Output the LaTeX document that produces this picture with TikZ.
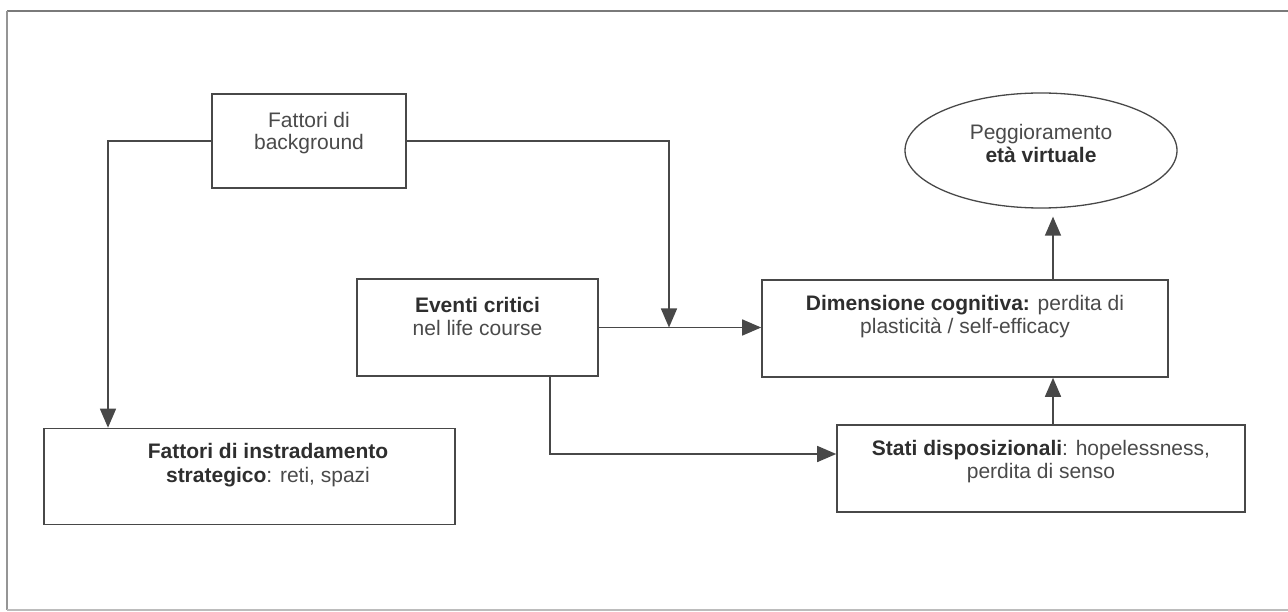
\documentclass[tikz,border=0pt]{standalone}
\usepackage{fontspec}
\setmainfont{Liberation Sans}
\usetikzlibrary{arrows.meta,shapes.geometric}
\definecolor{linec}{HTML}{484848}
\definecolor{textc}{HTML}{4A4A4A}
\definecolor{boldc}{HTML}{2E2E2E}
\definecolor{framec}{HTML}{7A7A7A}
\begin{document}
\begin{tikzpicture}[x=1pt,y=-1pt,
  box/.style={draw=linec, line width=1.6pt, inner sep=0pt},
  conn/.style={draw=linec, line width=1.5pt},
  arr/.style={conn, -{Triangle[length=19pt,width=16pt]}},
  lbl/.style={align=center, font=\fontsize{21}{23.5}\selectfont, text=textc, inner sep=0pt}]
\useasboundingbox (0,0) rectangle (1288,612);
% frame
\draw[draw=framec, line width=1.4pt] (1288,11) -- (7,11);
\draw[draw=framec!80, line width=1.3pt] (7,11) -- (7,610);
\draw[draw=framec!50, line width=1.3pt] (7,610) -- (1288,610);
% boxes
\node[box, minimum width=194pt, minimum height=94pt] (bg) at (309,141) {};
\node[lbl, font=\fontsize{21}{21.5}\selectfont] (tbg) at (309,133) {Fattori di\\background};
\node[box, minimum width=241pt, minimum height=97pt] (ev) at (477.5,327.5) {};
\node[lbl] (tev) at (477.5,316.5) {\textcolor{boldc}{\textbf{Eventi critici}}\\nel life course};
\node[box, minimum width=406pt, minimum height=97pt] (dim) at (965,328.5) {};
\node[lbl] (tdim) at (965,316.5) {\textcolor{boldc}{\textbf{Dimensione cognitiva:}} perdita di\\plasticità / self-efficacy};
\node[box, minimum width=408pt, minimum height=87pt] (stati) at (1041,468.5) {};
\node[lbl] (tstati) at (1041,461.5) {\textcolor{boldc}{\textbf{Stati disposizionali}}: hopelessness,\\perdita di senso};
\node[box, minimum width=411pt, minimum height=96pt] (instr) at (249.5,476.5) {};
\node[lbl] (tinstr) at (268,465) {\textcolor{boldc}{\textbf{Fattori di instradamento}}\\\textcolor{boldc}{\textbf{strategico}}: reti, spazi};
\node[ellipse, draw=linec, line width=1.3pt, inner sep=0pt, minimum width=272pt, minimum height=115pt] (ell) at (1041,150.5) {};
\node[lbl] (tell) at (1041,143.5) {Peggioramento\\\textcolor{boldc}{\textbf{età virtuale}}};
% connectors
\coordinate (c1) at (108,141);
\draw[arr] (bg.west) -| (instr.north -| c1);
\coordinate (j) at (669,327.5);
\draw[arr] (bg.east) -| (j);
\draw[arr] (ev.east) -- (ev.east -| dim.west);
\coordinate (k) at (550,454);
\draw[arr] (ev.south -| k) -- (k) -- (stati.west |- k);
\coordinate (a) at (1053,0);
\draw[arr] (stati.north -| a) -- (dim.south -| a);
\draw[arr, shorten >=8pt] (dim.north -| a) -- (ell.south -| a);
\end{tikzpicture}
\end{document}
